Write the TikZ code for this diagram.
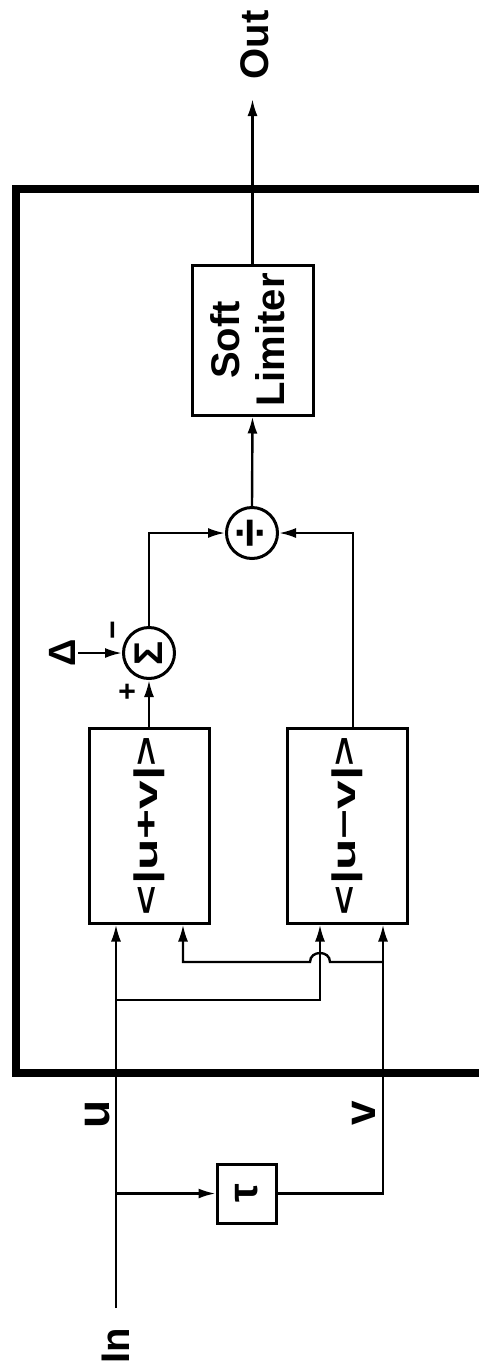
\documentclass[tikz,border=0pt]{standalone}
\usepackage{fontspec}
\setmainfont{Liberation Sans}
\usetikzlibrary{arrows.meta}
\begin{document}
\begin{tikzpicture}[x=1pt,y=-1pt,line width=2.4pt,
  arr/.style={-{Latex[length=17pt,width=10pt]}},
  blk/.style={draw,line width=3pt,inner sep=0pt},
  circ/.style={draw,circle,line width=3pt,minimum size=51pt,inner sep=0pt},
  lbl/.style={inner sep=0pt}]
\useasboundingbox (0,0) rectangle (479,1365);
% outer frame
\draw[line width=7.5pt] (485,189) -- (16,189) -- (16,1073) -- (485,1073);
% blocks
\node[blk,minimum width=121pt,minimum height=150pt] (sl) at (252.5,340)
  {\rotatebox{90}{\fontsize{40}{45}\selectfont\bfseries\begin{tabular}{@{}c@{}}Soft\\Limiter\end{tabular}}};
\node[circ] (div) at (252,533) {\rotatebox{90}{\fontsize{52}{52}\selectfont\bfseries ÷}};
\node[circ] (sum) at (149,653) {\rotatebox{90}{\fontsize{40}{40}\selectfont\bfseries Σ}};
\node[blk,minimum width=120pt,minimum height=195pt] (bp) at (149,825.5)
  {\rotatebox{90}{\resizebox*{179pt}{31pt}{\bfseries <|u+v|>}}};
\node[blk,minimum width=120pt,minimum height=195pt] (bm) at (347,825.5)
  {\rotatebox{90}{\resizebox*{179pt}{31pt}{\bfseries <|u−v|>}}};
\node[blk,minimum width=59pt,minimum height=59pt] (tau) at (246.5,1193.5)
  {\rotatebox{90}{\fontsize{42}{42}\selectfont\bfseries τ}};
% labels
\node[lbl] (delta) at (62,653) {\rotatebox{90}{\fontsize{38}{38}\selectfont\bfseries Δ}};
\node[lbl] (minus) at (117,630) {\rotatebox{90}{\fontsize{32}{32}\selectfont\bfseries −}};
\node[lbl] (plus) at (129,692) {\rotatebox{90}{\fontsize{30}{30}\selectfont\bfseries +}};
\node[lbl] (ulbl) at (98,1114) {\rotatebox{90}{\fontsize{46}{46}\selectfont\bfseries u}};
\node[lbl] (vlbl) at (364,1113) {\rotatebox{90}{\fontsize{44}{44}\selectfont\bfseries v}};
\node[lbl] (inlbl) at (116,1346) {\rotatebox{90}{\fontsize{40}{40}\selectfont\bfseries In}};
\node[lbl] (outlbl) at (255,45) {\rotatebox{90}{\fontsize{40}{40}\selectfont\bfseries Out}};
% coordinates
\coordinate (uin) at (116,1308);
\coordinate (ubr) at (116,1000);
\coordinate (c320) at (320,1000);
\coordinate (vx) at (383,1073);
\coordinate (vbr) at (383,962);
\coordinate (bumpR) at (330,962);
\coordinate (bumpL) at (310,962);
\coordinate (vb2) at (183,962);
\coordinate (out) at (252.5,99);
% connectors
\draw[arr] (uin) -- (uin |- bp.south);
\draw[arr] (uin |- tau.west) -- (tau.west);
\draw[arr] (tau.east) -| (vx |- bm.south);
\draw[arr] (ubr) -- (c320) -- (c320 |- bm.south);
\draw[arr] (vbr) -- (bumpR) .. controls +(0,-12) and +(0,-12) .. (bumpL) -- (vb2) -- (vb2 |- bp.south);
\draw[arr] (bp.north) -- (sum.south);
\draw[arr] ([xshift=6pt]bm.north) |- (div.east);
\draw[arr] (sum.north) |- (div.west);
\draw[arr] (div.north) -- (sl.south);
\draw[arr] (sl.north) -- (out);
\draw[arr] ([xshift=2pt]delta.east) -- (sum.west);
\end{tikzpicture}
\end{document}
